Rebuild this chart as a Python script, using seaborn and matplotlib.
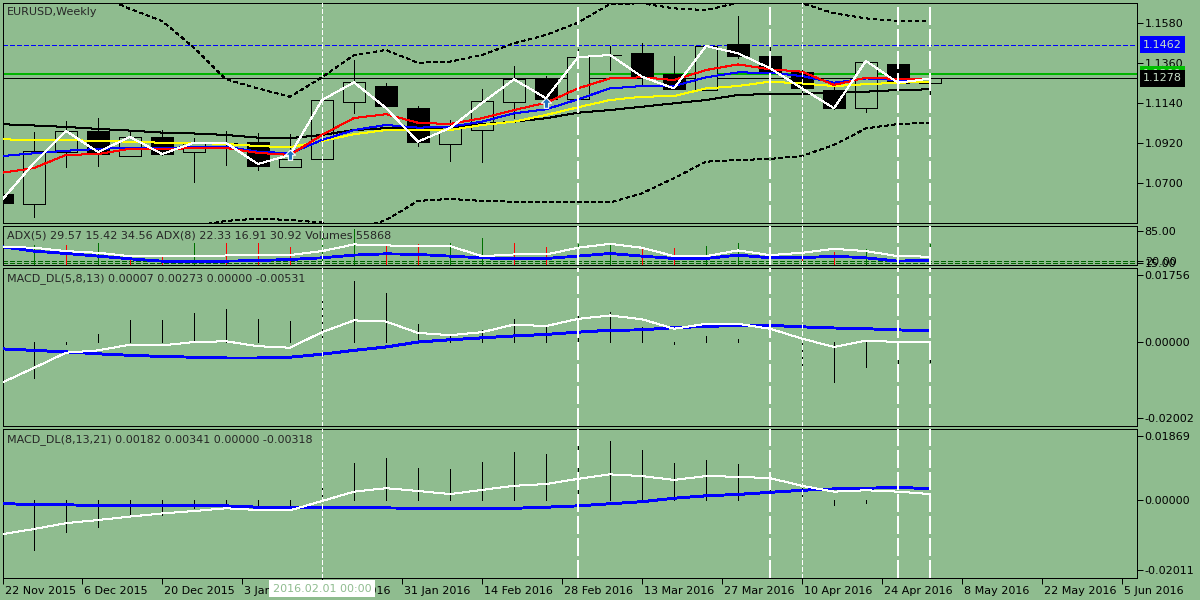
import numpy as np
import seaborn as sns
import matplotlib
matplotlib.use("Agg")
import matplotlib.pyplot as plt
from matplotlib.path import Path
from matplotlib.transforms import blended_transform_factory, ScaledTranslation

# ---- weekly EURUSD candles (bar 0 = week of 22 Nov 2015) ----
opens = [1.0641, 1.0586, 1.0870, 1.0988, 1.0852, 1.0953, 1.0870, 1.0921, 1.0925, 1.0791,
         1.0832, 1.1146, 1.1235, 1.1113, 1.0915, 1.0993, 1.1146, 1.1274, 1.1162, 1.1404,
         1.1415, 1.1301, 1.1213, 1.1465, 1.1400, 1.1314, 1.1213, 1.1113, 1.1356, 1.1250]
highs = [1.0663, 1.0981, 1.1043, 1.1061, 1.0993, 1.0993, 1.0951, 1.0988, 1.0975, 1.0970,
         1.1158, 1.1378, 1.1250, 1.1125, 1.1048, 1.1219, 1.1345, 1.1290, 1.1437, 1.1455,
         1.1470, 1.1400, 1.1461, 1.1622, 1.1451, 1.1351, 1.1241, 1.1367, 1.1421, 1.1308]
lows = [1.0575, 1.0513, 1.0791, 1.0797, 1.0850, 1.0858, 1.0709, 1.0801, 1.0773, 1.0791,
        1.0832, 1.1085, 1.1114, 1.0907, 1.0823, 1.0819, 1.1058, 1.1158, 1.1162, 1.1323,
        1.1237, 1.1216, 1.1213, 1.1387, 1.1278, 1.1176, 1.1111, 1.1094, 1.1252, 1.1125]
closes = [1.0593, 1.0879, 1.0988, 1.0861, 1.0953, 1.0861, 1.0923, 1.0919, 1.0797, 1.0832,
          1.1158, 1.1255, 1.1127, 1.0929, 1.1011, 1.1153, 1.1272, 1.1164, 1.1393, 1.1407,
          1.1281, 1.1219, 1.1455, 1.1402, 1.1310, 1.1222, 1.1113, 1.1365, 1.1253, 1.1278]

# overlay lines on the price panel
price_line = [1.0608, 1.0812, 1.0988, 1.0872, 1.0955, 1.0861, 1.0923, 1.0922, 1.0806, 1.0856,
              1.1158, 1.1255, 1.1114, 1.0929, 1.1004, 1.1142, 1.1272, 1.1168, 1.1393, 1.1406,
              1.1286, 1.1222, 1.1455, 1.1415, 1.1333, 1.1222, 1.1113, 1.1373, 1.1253, 1.1276]
ma_red = [1.0758, 1.0784, 1.0856, 1.0861, 1.0890, 1.0887, 1.0894, 1.0894, 1.0867, 1.0856,
          1.0966, 1.1059, 1.1080, 1.1033, 1.1026, 1.1058, 1.1103, 1.1143, 1.1222, 1.1277,
          1.1283, 1.1268, 1.1323, 1.1354, 1.1327, 1.1314, 1.1241, 1.1281, 1.1274, 1.1272]
ma_blue = [1.0850, 1.0865, 1.0879, 1.0889, 1.0896, 1.0892, 1.0901, 1.0901, 1.0874, 1.0865,
           1.0938, 1.0993, 1.1021, 1.1006, 1.1011, 1.1039, 1.1085, 1.1107, 1.1162, 1.1222,
           1.1235, 1.1235, 1.1283, 1.1310, 1.1308, 1.1290, 1.1253, 1.1277, 1.1268, 1.1272]
ma_yellow = [1.0942, 1.0938, 1.0938, 1.0933, 1.0929, 1.0923, 1.0923, 1.0916, 1.0905, 1.0898,
             1.0933, 1.0970, 1.0993, 1.0993, 1.0993, 1.1021, 1.1039, 1.1076, 1.1118, 1.1158,
             1.1176, 1.1180, 1.1222, 1.1235, 1.1259, 1.1249, 1.1235, 1.1245, 1.1253, 1.1259]
ma_black = [1.1025, 1.1018, 1.1010, 1.0999, 1.0990, 1.0979, 1.0974, 1.0966, 1.0951, 1.0948,
            1.0966, 1.0993, 1.1003, 1.1003, 1.1008, 1.1025, 1.1039, 1.1058, 1.1088, 1.1103,
            1.1121, 1.1140, 1.1158, 1.1186, 1.1191, 1.1192, 1.1200, 1.1204, 1.1213, 1.1217]
bb_upper = [1.2093, 1.1972, 1.1846, 1.1736, 1.1659, 1.1593, 1.1446, 1.1272, 1.1222, 1.1176,
            1.1283, 1.1406, 1.1433, 1.1363, 1.1369, 1.1406, 1.1470, 1.1516, 1.1583, 1.1686,
            1.1690, 1.1662, 1.1653, 1.1693, 1.1714, 1.1690, 1.1635, 1.1607, 1.1593, 1.1593]
bb_lower = [1.0113, 1.0196, 1.0267, 1.0322, 1.0372, 1.0427, 1.0465, 1.0493, 1.0506, 1.0498,
            1.0484, 1.0443, 1.0498, 1.0603, 1.0614, 1.0603, 1.0599, 1.0599, 1.0595, 1.0595,
            1.0645, 1.0728, 1.0819, 1.0828, 1.0834, 1.0850, 1.0911, 1.1002, 1.1026, 1.1033]
arrow_bars = [9, 17]
arrow_prices = [1.0856, 1.1142]
level_blue = 1.1462
level_green = 1.1300
level_bid = 1.1278

# ADX / volumes panel
adx5 = [50.7, 48.6, 41.4, 37.9, 30.7, 30.7, 30.7, 32.1, 32.9, 32.9, 41.4, 55.7, 53.6, 52.1, 52.1,
        30.7, 34.3, 34.3, 48.6, 57.1, 48.6, 30.7, 30.7, 42.9, 32.9, 37.9, 46.4, 41.4, 30.7, 29.6]
adx8 = [50.7, 41.4, 36.4, 30.7, 25.0, 20.0, 20.0, 20.0, 21.4, 23.6, 27.1, 32.9, 35.7, 34.3, 30.7,
        27.1, 25.0, 25.7, 30.7, 36.4, 30.7, 25.7, 25.7, 32.9, 27.1, 27.1, 30.7, 27.1, 20.0, 22.3]
volumes = [48.0, 53.6, 53.6, 59.3, 33.6, 30.0, 59.3, 57.9, 57.9, 50.7, 70.7, 89.3, 55.7, 55.7, 57.9,
           69.3, 57.9, 49.3, 56.4, 57.9, 50.7, 48.6, 52.1, 59.3, 46.4, 42.1, 40.0, 46.4, 46.4, 55.7]
vol_up = [1, 1, 0, 1, 0, 0, 1, 0, 0, 0, 1, 1, 0, 0, 1, 1, 0, 0, 1, 1, 0, 0, 1, 1, 0, 0, 0, 1, 0, 1]
adx_levels = [20, 15]

# MACD_DL(5,8,13)
macd1_hist = [-0.0080, -0.0094, -0.0004, 0.0022, 0.0057, 0.0057, 0.0076, 0.0086, 0.0060, 0.0055,
              0.0119, 0.0161, 0.0129, 0.0047, 0.0018, 0.0033, 0.0060, 0.0044, 0.0073, 0.0079,
              0.0039, -0.0006, 0.0016, 0.0009, -0.0025, -0.0060, -0.0104, -0.0066, -0.0070, -0.0053]
macd1_main = [-0.0107, -0.0068, -0.0028, -0.0022, -0.0007, -0.0009, 0.0000, 0.0002, -0.0011, -0.0015,
              0.0026, 0.0057, 0.0054, 0.0024, 0.0018, 0.0026, 0.0046, 0.0042, 0.0061, 0.0070,
              0.0060, 0.0035, 0.0048, 0.0048, 0.0035, 0.0009, -0.0013, 0.0004, 0.0000, 0.0001]
macd1_signal = [-0.0018, -0.0022, -0.0026, -0.0031, -0.0035, -0.0038, -0.0040, -0.0042, -0.0042, -0.0040,
                -0.0032, -0.0022, -0.0013, 0.0000, 0.0006, 0.0011, 0.0016, 0.0020, 0.0026, 0.0031,
                0.0032, 0.0038, 0.0041, 0.0044, 0.0044, 0.0040, 0.0037, 0.0035, 0.0032, 0.0029]

# MACD_DL(8,13,21)
macd2_hist = [-0.0150, -0.0143, -0.0091, -0.0076, -0.0047, -0.0042, -0.0023, -0.0010, -0.0015, -0.0013,
              0.0049, 0.0107, 0.0121, 0.0092, 0.0091, 0.0110, 0.0139, 0.0133, 0.0162, 0.0171,
              0.0145, 0.0107, 0.0117, 0.0104, 0.0075, 0.0035, -0.0015, -0.0007, -0.0023, -0.0032]
macd2_main = [-0.0098, -0.0083, -0.0066, -0.0057, -0.0047, -0.0038, -0.0031, -0.0023, -0.0028, -0.0029,
              -0.0002, 0.0025, 0.0035, 0.0027, 0.0018, 0.0030, 0.0042, 0.0047, 0.0062, 0.0075,
              0.0070, 0.0059, 0.0070, 0.0068, 0.0064, 0.0042, 0.0025, 0.0029, 0.0025, 0.0018]
macd2_signal = [-0.0009, -0.0013, -0.0013, -0.0015, -0.0015, -0.0015, -0.0015, -0.0016, -0.0020, -0.0022,
                -0.0022, -0.0022, -0.0022, -0.0023, -0.0025, -0.0025, -0.0023, -0.0020, -0.0016, -0.0010,
                -0.0004, 0.0006, 0.0013, 0.0017, 0.0023, 0.0029, 0.0033, 0.0035, 0.0037, 0.0034]

# vertical separators and time axis
short_dash_bars = [10, 25]
long_dash_bars = [18, 24, 28, 29]
date_labels = ["22 Nov 2015", "6 Dec 2015", "20 Dec 2015", "3 Jan 2016", "17 Jan 2016",
               "31 Jan 2016", "14 Feb 2016", "28 Feb 2016", "13 Mar 2016", "27 Mar 2016",
               "10 Apr 2016", "24 Apr 2016", "8 May 2016", "22 May 2016", "5 Jun 2016"]
cursor_bar = 10
cursor_label = "2016.02.01 00:00"

main_ticks = [1.0700, 1.0920, 1.1140, 1.1360, 1.1580]
adx_ticks = [15, 20, 85]
macd1_ticks = [-0.02002, 0.0, 0.01756]
macd2_ticks = [-0.02011, 0.0, 0.01869]

# ---------------- drawing ----------------
BG = "#8fbc8f"
W, H = 1200, 600
FS = 8.0
PX = 0.72  # one pixel in points at 100 dpi
XMIN, XMAX = 1 / 32, 1135 / 32

sns.set_theme(style="ticks")
plt.rcParams["font.family"] = ["DejaVu Sans"]
plt.rcParams["lines.antialiased"] = False
plt.rcParams["patch.antialiased"] = False
plt.rcParams["lines.scale_dashes"] = False

fig = plt.figure(figsize=(12, 6), dpi=100, facecolor=BG)


def add_panel(top, bottom, ylim, ticks, fmt):
    ax = fig.add_axes([3 / W, 1 - bottom / H, 1134 / W, (bottom - top) / H])
    ax.set_facecolor(BG)
    for s in ax.spines.values():
        s.set_visible(True)
        s.set_color("black")
        s.set_linewidth(PX)
    ax.yaxis.tick_right()
    ax.tick_params(axis="y", direction="out", length=4, width=PX, pad=1.5,
                   labelsize=FS, colors="black")
    ax.tick_params(axis="x", length=0, labelbottom=False)
    ax.set_xlim(XMIN, XMAX)
    ax.set_ylim(*ylim)
    ax.set_yticks(ticks)
    ax.set_yticklabels([fmt % t for t in ticks])
    ax.grid(False)
    return ax


idx = np.arange(len(closes))
ax1 = add_panel(2.7, 222.7, (1.04833, 1.16933), main_ticks, "%.4f")
ax2 = add_panel(226, 264.5, (12.86, 95.0), adx_ticks, "%.2f")
ax3 = add_panel(267.7, 426, (-0.02212, 0.01958), macd1_ticks, "%.5f")
ax4 = add_panel(428.5, 578, (-0.02245, 0.02075), macd2_ticks, "%.5f")
axes = [ax1, ax2, ax3, ax4]

# --- price panel ---
o = np.array(opens)
c = np.array(closes)
ax1.vlines(idx, lows, highs, color="black", lw=PX, zorder=2)
ax1.bar(idx, np.maximum(np.abs(c - o), 1e-5), bottom=np.minimum(o, c), width=0.66,
        color=np.where(c >= o, BG, "black"), edgecolor="black", linewidth=PX, zorder=3)

dot = (0, (2.2, 2.2))
sns.lineplot(x=idx, y=bb_upper, ax=ax1, color="black", lw=PX, linestyle=dot, zorder=2)
sns.lineplot(x=idx, y=bb_lower, ax=ax1, color="black", lw=PX, linestyle=dot, zorder=2)
sns.lineplot(x=idx, y=ma_black, ax=ax1, color="black", lw=PX, zorder=4)
sns.lineplot(x=idx, y=ma_yellow, ax=ax1, color="#ffff00", lw=PX, zorder=4)
sns.lineplot(x=idx, y=ma_blue, ax=ax1, color="#0000ff", lw=PX, zorder=4)
sns.lineplot(x=idx, y=ma_red, ax=ax1, color="#ff0000", lw=PX, zorder=4)
sns.lineplot(x=idx, y=price_line, ax=ax1, color="white", lw=PX, zorder=6)

ax1.axhline(level_blue, color="#0000ff", lw=PX, linestyle=(0, (2.9, 1.45)), zorder=1.5)
ax1.axhline(level_green, color="#00b400", lw=1.2, zorder=1.5)
ax1.axhline(level_bid, color="black", lw=PX, zorder=1.5)

arrow = Path([(0, 1), (-0.95, 0.05), (-0.4, 0.05), (-0.4, -0.9), (0.4, -0.9),
              (0.4, 0.05), (0.95, 0.05), (0, 1)], closed=True)
ax1.scatter(arrow_bars, arrow_prices, marker=arrow, s=60, color="#1f6fc0",
            edgecolors="white", linewidths=0.8, zorder=8)

# --- ADX + volumes ---
ax2.vlines(idx, 0, volumes, colors=["#007000" if u else "#ff0000" for u in vol_up],
           lw=PX, zorder=2)
for lv in adx_levels:
    ax2.axhline(lv, color="#006400", lw=PX, linestyle=(0, (2.9, 1.45)), zorder=1.5)
sns.lineplot(x=idx, y=adx8, ax=ax2, color="#0000ff", lw=1.3, zorder=3)
sns.lineplot(x=idx, y=adx5, ax=ax2, color="white", lw=PX, zorder=4)

# --- MACD panels ---
for ax, hist, main, sig in [(ax3, macd1_hist, macd1_main, macd1_signal),
                            (ax4, macd2_hist, macd2_main, macd2_signal)]:
    ax.vlines(idx, 0, hist, color="black", lw=PX, zorder=2)
    sns.lineplot(x=idx, y=sig, ax=ax, color="#0000ff", lw=1.4, zorder=3)
    sns.lineplot(x=idx, y=main, ax=ax, color="white", lw=PX, zorder=4)

# vertical markers across all panels
for ax in axes:
    for b in short_dash_bars:
        ax.axvline(b, color="white", lw=PX, linestyle=(0, (2.9, 1.45)), zorder=5)
    for b in long_dash_bars:
        ax.axvline(b, color="white", lw=1.3, linestyle=(0, (12.5, 3.0)), zorder=5)
    ax.set_xlim(XMIN, XMAX)
    ax.set_xlabel("")
    ax.set_ylabel("")

# time axis on the bottom panel
xt = np.maximum(np.arange(len(date_labels)) * 2.5, XMIN)
ax4.set_xticks(xt)
ax4.set_xticklabels(date_labels)
ax4.tick_params(axis="x", length=4, width=PX, pad=1.5, labelbottom=True,
                labelsize=FS, colors="black", direction="out")
shift = ScaledTranslation(2 / 100, 0, fig.dpi_scale_trans)
for lbl in ax4.get_xticklabels():
    lbl.set_horizontalalignment("left")
    lbl.set_transform(lbl.get_transform() + shift)

# price tags on the right scale
tag_tr = blended_transform_factory(fig.transFigure, ax1.transData)
for val, txt, fc in [(level_green, "%.4f" % level_green, "#00c000"),
                     (level_bid, "%.4f" % level_bid, "black"),
                     (level_blue, "%.4f" % level_blue, "#0000ff")]:
    ax1.text(1143 / W, val, txt, transform=tag_tr, ha="left", va="center", fontsize=FS,
             color="#c8e0c8", zorder=10, clip_on=False,
             bbox=dict(boxstyle="square,pad=0.3", fc=fc, ec="none"))

# window titles
fig.text(7 / W, 1 - 12 / H, "EURUSD,Weekly", ha="left", va="center", fontsize=FS)
fig.text(7 / W, 1 - 236 / H, "ADX(5) 29.57 15.42 34.56 ADX(8) 22.33 16.91 30.92 Volumes 55868",
         ha="left", va="center", fontsize=FS)
fig.text(7 / W, 1 - 279 / H, "MACD_DL(5,8,13) 0.00007 0.00273 0.00000 -0.00531",
         ha="left", va="center", fontsize=FS)
fig.text(7 / W, 1 - 440 / H, "MACD_DL(8,13,21) 0.00182 0.00341 0.00000 -0.00318",
         ha="left", va="center", fontsize=FS)

# crosshair date tag
cur_tr = blended_transform_factory(ax4.transData, fig.transFigure)
fig.text(cursor_bar, 1 - 588.5 / H, cursor_label, transform=cur_tr, ha="center", va="center",
         fontsize=FS, color=BG, bbox=dict(boxstyle="square,pad=0.3", fc="white", ec="none"))

fig.savefig("out.png", dpi=100, facecolor=BG)
